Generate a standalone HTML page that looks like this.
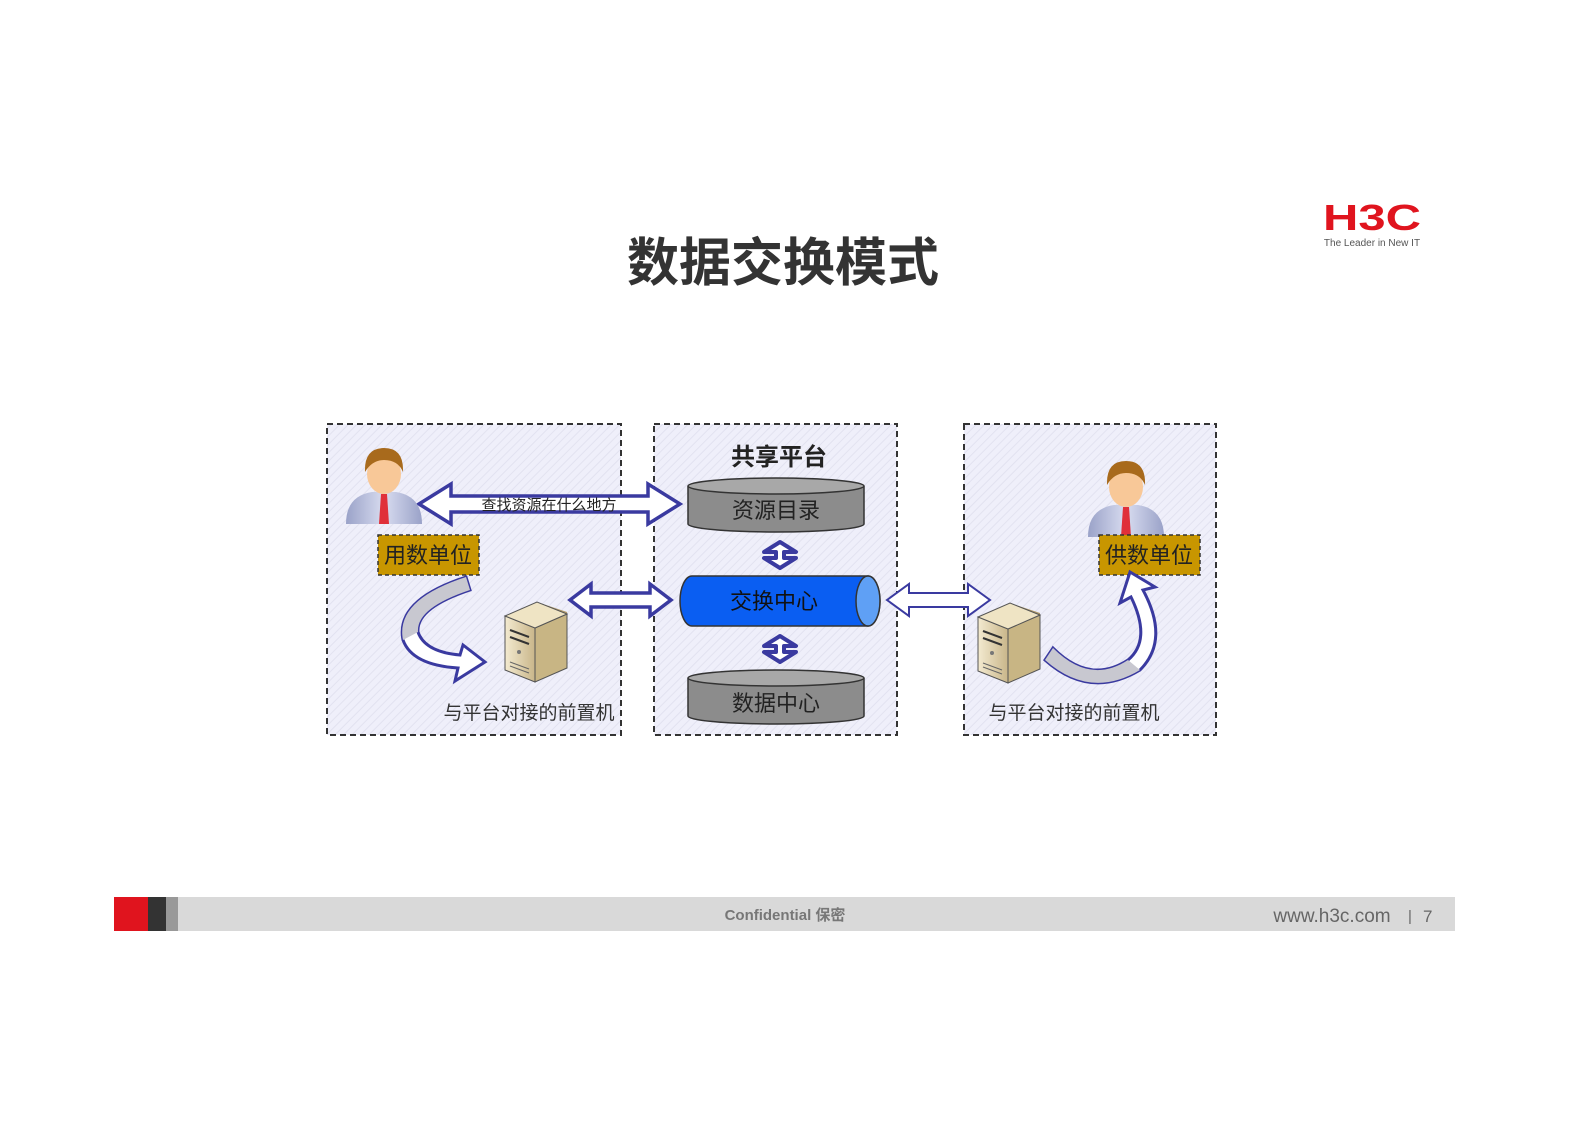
<!DOCTYPE html>
<html><head><meta charset="utf-8"><style>
body{margin:0;width:1587px;height:1122px;background:#fff;overflow:hidden;font-family:"Liberation Sans","Noto Sans CJK SC",sans-serif}
</style></head><body>
<svg width="1587" height="1122" xmlns="http://www.w3.org/2000/svg" font-family="Liberation Sans, Noto Sans CJK SC, sans-serif">
<defs>
<pattern id="h" width="6" height="6" patternUnits="userSpaceOnUse" patternTransform="rotate(45)">
<rect width="6" height="6" fill="#efeffa"/><line x1="0" y1="0" x2="0" y2="6" stroke="#e2e2f0" stroke-width="2"/></pattern>
<linearGradient id="srv" x1="0" x2="1"><stop offset="0" stop-color="#f3ead0"/><stop offset="1" stop-color="#c9b68a"/></linearGradient>
<linearGradient id="body" x1="0" x2="1"><stop offset="0" stop-color="#9aa2c8"/><stop offset=".5" stop-color="#d8dcf0"/><stop offset="1" stop-color="#9aa2c8"/></linearGradient>
<g id="person">
<path d="M-38,58 Q-38,30 -12,26 L12,26 Q38,30 38,58 Z" fill="url(#body)"/>
<polygon points="-3,28 3,28 5,58 -5,58" fill="#e0303a"/>
<ellipse cx="0" cy="8" rx="17" ry="20" fill="#f8c898"/>
<path d="M-19,6 Q-20,-18 0,-18 Q20,-18 19,6 Q14,-6 0,-6 Q-12,-6 -19,6Z" fill="#a86a1c"/>
</g>
<g id="server">
<polygon points="0,14 32,0 62,10 62,66 30,80 0,68" fill="#b09a6a"/>
<polygon points="0,14 30,26 30,80 0,68" fill="url(#srv)" stroke="#555" stroke-width="1"/>
<polygon points="30,26 62,12 62,66 30,80" fill="#c8b584" stroke="#555" stroke-width="1"/>
<polygon points="0,14 32,0 62,12 30,26" fill="#efe4c4" stroke="#555" stroke-width="1"/>
<line x1="5" y1="28" x2="24" y2="35" stroke="#333" stroke-width="2"/>
<line x1="5" y1="35" x2="24" y2="42" stroke="#333" stroke-width="2"/>
<circle cx="14" cy="50" r="2" fill="#777"/>
<line x1="5" y1="60" x2="24" y2="67" stroke="#666"/><line x1="5" y1="64" x2="24" y2="71" stroke="#666"/>
</g>
<g id="varr">
<polygon points="0,-13 16,-3 4,-3 4,3 16,3 0,13 -16,3 -4,3 -4,-3 -16,-3" fill="#fff" stroke="#3a3aa0" stroke-width="4" stroke-linejoin="round"/>
</g>
</defs>
<text x="783" y="281" text-anchor="middle" font-size="52" font-weight="bold" fill="#333">数据交换模式</text>
<text x="1372" y="230" text-anchor="middle" font-size="36" font-weight="900" fill="#e0141e" font-family="Liberation Sans, sans-serif" textLength="98" lengthAdjust="spacingAndGlyphs">H3C</text>
<text x="1372" y="246" text-anchor="middle" font-size="10" fill="#555">The Leader in New IT</text>

<rect x="327" y="424" width="294" height="311" fill="url(#h)" stroke="#333" stroke-width="2" stroke-dasharray="6,4"/>
<rect x="654" y="424" width="243" height="311" fill="url(#h)" stroke="#333" stroke-width="2" stroke-dasharray="6,4"/>
<rect x="964" y="424" width="252" height="311" fill="url(#h)" stroke="#333" stroke-width="2" stroke-dasharray="6,4"/>

<text x="779" y="465" text-anchor="middle" font-size="24" font-weight="bold" fill="#222">共享平台</text>
<g stroke="#333" stroke-width="1.5">
<path d="M688,486 L688,524 A88,8 0 0 0 864,524 L864,486" fill="#8c8c8c"/>
<ellipse cx="776" cy="486" rx="88" ry="8" fill="#a8a8a8"/>
<path d="M688,678 L688,716 A88,8 0 0 0 864,716 L864,678" fill="#8c8c8c"/>
<ellipse cx="776" cy="678" rx="88" ry="8" fill="#a8a8a8"/>
<path d="M692,576 L868,576 A12,25 0 0 1 868,626 L692,626 A12,25 0 0 1 692,576Z" fill="#0a5ef2"/>
<ellipse cx="868" cy="601" rx="12" ry="25" fill="#5fa0f5"/>
</g>
<text x="776" y="518" text-anchor="middle" font-size="22" fill="#222">资源目录</text>
<text x="776" y="711" text-anchor="middle" font-size="22" fill="#222">数据中心</text>
<text x="774" y="609" text-anchor="middle" font-size="22" fill="#111">交换中心</text>
<use href="#varr" x="780" y="555"/>
<use href="#varr" x="780" y="649"/>
<g fill="#fff" stroke="#3a3aa0" stroke-width="3.5">
<polygon points="419,504 451,484 451,496 648,496 648,484 680,504 648,524 648,512 451,512 451,524"/>
<polygon points="570,600 591,584 591,593 650,593 650,584 671,600 650,616 650,607 591,607 591,616"/>
</g>
<polygon points="887,600 909,584 909,593 968,593 968,584 990,600 968,616 968,607 909,607 909,616" fill="#fff" stroke="#3a3aa0" stroke-width="2"/>
<text x="549" y="510" text-anchor="middle" font-size="15" fill="#222">查找资源在什么地方</text>

<use href="#person" x="384" y="466"/>
<use href="#person" x="1126" y="479"/>
<rect x="378" y="535" width="101" height="40" fill="#c89600" stroke="#333" stroke-width="1.5" stroke-dasharray="4,3"/>
<text x="428" y="563" text-anchor="middle" font-size="22" fill="#222">用数单位</text>
<rect x="1099" y="535" width="101" height="40" fill="#c89600" stroke="#333" stroke-width="1.5" stroke-dasharray="4,3"/>
<text x="1149" y="563" text-anchor="middle" font-size="22" fill="#222">供数单位</text>

<use href="#server" x="505" y="602"/>
<use href="#server" x="978" y="603"/>

<path d="M466,577 Q395,600 403,640 Q412,665 458,668 L455,681 L485,662 L463,645 L460,655 Q425,652 418,632 Q416,608 470,590 Z" fill="#fff" stroke="#3a3aa0" stroke-width="3"/>
<path d="M466,577 Q395,600 403,640 L418,632 Q416,608 470,590Z" fill="#c8c8d0"/>
<path d="M1045,660 Q1090,700 1140,670 Q1170,640 1143,590 L1155,587 L1130,572 L1120,603 L1131,597 Q1152,640 1128,660 Q1090,685 1053,648 Z" fill="#fff" stroke="#3a3aa0" stroke-width="3"/>
<path d="M1045,660 Q1090,700 1140,670 L1128,660 Q1090,685 1053,648Z" fill="#c8c8d0"/>

<text x="529" y="719" text-anchor="middle" font-size="19" fill="#333">与平台对接的前置机</text>
<text x="1074" y="719" text-anchor="middle" font-size="19" fill="#333">与平台对接的前置机</text>

<rect x="114" y="897" width="1341" height="34" fill="#d9d9d9"/>
<rect x="114" y="897" width="34" height="34" fill="#e0141e"/>
<rect x="148" y="897" width="18" height="34" fill="#333"/>
<rect x="166" y="897" width="12" height="34" fill="#999"/>
<text x="785" y="920" text-anchor="middle" font-size="15" font-weight="bold" fill="#777">Confidential 保密</text>
<text x="1332" y="922" text-anchor="middle" font-size="19" fill="#666">www.h3c.com</text>
<text x="1408" y="921" font-size="15" fill="#666">|</text>
<text x="1423" y="922" font-size="17" fill="#666">7</text>
</svg>
</body></html>
